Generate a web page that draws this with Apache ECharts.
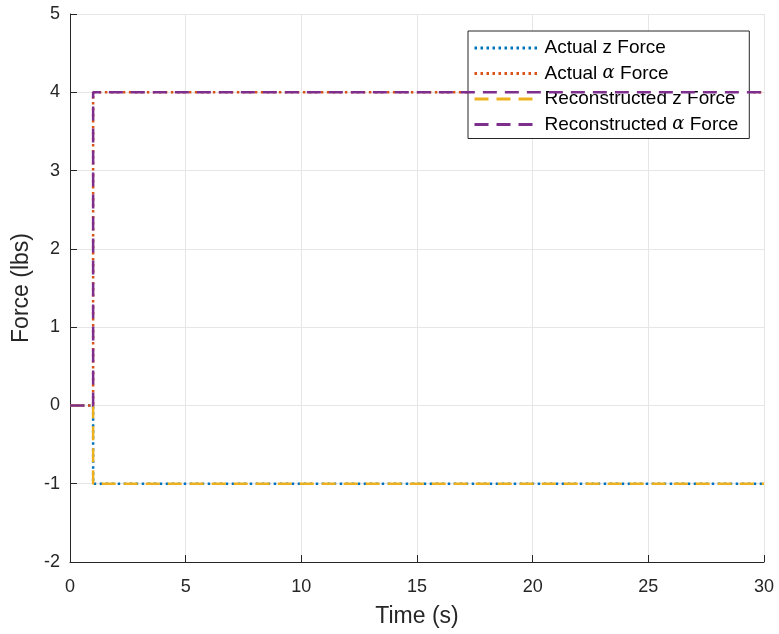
<!DOCTYPE html>
<html>
<head>
<meta charset="utf-8">
<script src="https://cdn.jsdelivr.net/npm/echarts@6/dist/echarts.min.js"></script>
<style>html,body{margin:0;padding:0;background:#fff}#c{width:779px;height:634px}</style>
</head>
<body>
<div id="c"></div>
<script>
const time = [0, 1, 1, 30];
const actualZ = [0, 0, -1, -1];
const actualAlpha = [0, 0, 4, 4];
const reconZ = [0, 0, -1, -1];
const reconAlpha = [0, 0, 4, 4];
const seriesNames = ['Actual z Force', 'Actual α Force', 'Reconstructed z Force', 'Reconstructed α Force'];
const xTicks = [0, 5, 10, 15, 20, 25, 30];
const yTicks = [-2, -1, 0, 1, 2, 3, 4, 5];

const FONT = 'Liberation Sans, Arial, Helvetica, sans-serif';
const colors = ['#0072BD', '#D95319', '#EDB120', '#7E2F8E'];
const dataSets = [actualZ, actualAlpha, reconZ, reconAlpha];
const dashes = [[2.5, 3.5], [2.5, 3.5], [14, 8], [14, 8]];

const chart = echarts.init(document.getElementById('c'), null, {renderer: 'canvas'});
chart.setOption({
  animation: false,
  backgroundColor: '#fff',
  grid: {left: 70, right: 15, top: 14, bottom: 72, containLabel: false},
  xAxis: {
    type: 'value', min: 0, max: 30, interval: 5,
    name: 'Time (s)', nameLocation: 'middle', nameGap: 43,
    nameTextStyle: {fontFamily: FONT, fontSize: 23, color: '#262626'},
    axisLine: {show: true, onZero: false, lineStyle: {color: '#262626', width: 1}},
    axisTick: {show: true, inside: true, length: 7, lineStyle: {color: '#262626'}},
    axisLabel: {fontFamily: FONT, fontSize: 18, color: '#262626', margin: 16,
      formatter: v => xTicks.includes(v) ? String(v) : ''},
    splitLine: {show: true, lineStyle: {color: '#e6e6e6', width: 1}}
  },
  yAxis: {
    type: 'value', min: -2, max: 5, interval: 1,
    name: 'Force (lbs)', nameLocation: 'middle', nameGap: 37,
    nameTextStyle: {fontFamily: FONT, fontSize: 23, color: '#262626'},
    axisLine: {show: true, onZero: false, lineStyle: {color: '#262626', width: 1}},
    axisTick: {show: true, inside: true, length: 7, lineStyle: {color: '#262626'}},
    axisLabel: {fontFamily: FONT, fontSize: 18, color: '#262626', margin: 10,
      formatter: v => yTicks.includes(v) ? String(v) : ''},
    splitLine: {show: true, lineStyle: {color: '#e6e6e6', width: 1}}
  },
  legend: {
    orient: 'vertical', left: 468, top: 31,
    backgroundColor: '#fff', borderColor: '#262626', borderWidth: 1,
    padding: [7, 11, 4, 5], itemWidth: 63, itemHeight: 14, itemGap: 5.5,
    itemStyle: {opacity: 0},
    lineStyle: {width: 3, opacity: 1},
    textStyle: {fontFamily: FONT, fontSize: 19, color: '#000', lineHeight: 20, padding: [0, 0, 0, 2],
      rich: {g: {fontFamily: 'DejaVu Serif, serif', fontStyle: 'italic', fontSize: 18, color: '#000', lineHeight: 20}}},
    formatter: name => name.includes('α') ? name.replace('α', '{g|α}') : name,
    data: seriesNames
  },
  series: seriesNames.map((n, i) => ({
    name: n, type: 'line', symbol: 'none', showSymbol: false,
    data: time.map((t, k) => [t, dataSets[i][k]]),
    lineStyle: {color: colors[i], width: 2.5, type: dashes[i], cap: 'butt'},
    itemStyle: {color: colors[i]},
    z: 2 + i
  }))
});
</script>
</body>
</html>
